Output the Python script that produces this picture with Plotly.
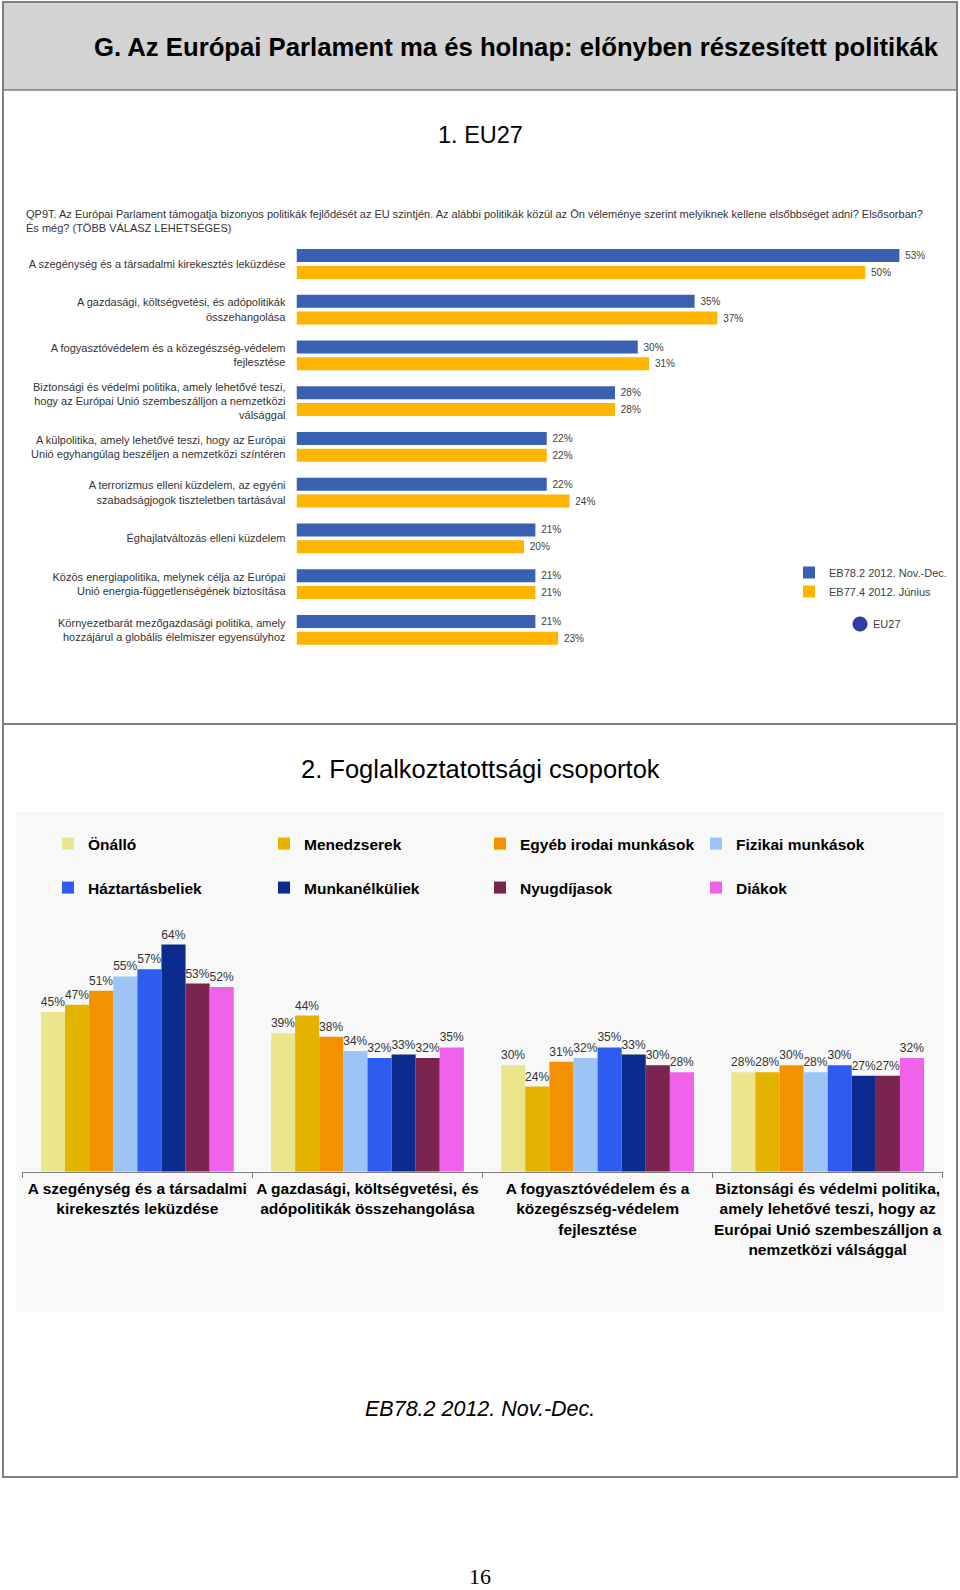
import plotly.graph_objects as go

W, H = 960, 1590

# ---------------- data ----------------
top_categories = [
    "A szegénység és a társadalmi kirekesztés leküzdése",
    "A gazdasági, költségvetési, és adópolitikák<br>összehangolása",
    "A fogyasztóvédelem és a közegészség-védelem<br>fejlesztése",
    "Biztonsági és védelmi politika, amely lehetővé teszi,<br>hogy az Európai Unió szembeszálljon a nemzetközi<br>válsággal",
    "A külpolitika, amely lehetővé teszi, hogy az Európai<br>Unió egyhangúlag beszéljen a nemzetközi színtéren",
    "A terrorizmus elleni küzdelem, az egyéni<br>szabadságjogok tiszteletben tartásával",
    "Éghajlatváltozás elleni küzdelem",
    "Közös energiapolitika, melynek célja az Európai<br>Unió energia-függetlenségének biztosítása",
    "Környezetbarát mezőgazdasági politika, amely<br>hozzájárul a globális élelmiszer egyensúlyhoz",
]
eb782_values = [53, 35, 30, 28, 22, 22, 21, 21, 21]
eb774_values = [50, 37, 31, 28, 22, 24, 20, 21, 23]
top_series = ["EB78.2 2012. Nov.-Dec.", "EB77.4 2012. Június"]

group_categories = [
    "A szegénység és a társadalmi<br>kirekesztés leküzdése",
    "A gazdasági, költségvetési, és<br>adópolitikák összehangolása",
    "A fogyasztóvédelem és a<br>közegészség-védelem<br>fejlesztése",
    "Biztonsági és védelmi politika,<br>amely lehetővé teszi, hogy az<br>Európai Unió szembeszálljon a<br>nemzetközi válsággal",
]
occupation_groups = ["Önálló", "Menedzserek", "Egyéb irodai munkások", "Fizikai munkások",
                     "Háztartásbeliek", "Munkanélküliek", "Nyugdíjasok", "Diákok"]
onallo = [45, 39, 30, 28]
menedzserek = [47, 44, 24, 28]
egyeb_irodai = [51, 38, 31, 30]
fizikai = [55, 34, 32, 28]
haztartasbeliek = [57, 32, 35, 30]
munkanelkuliek = [64, 33, 33, 27]
nyugdijasok = [53, 32, 30, 27]
diakok = [52, 35, 28, 32]
occupation_values = [onallo, menedzserek, egyeb_irodai, fizikai,
                     haztartasbeliek, munkanelkuliek, nyugdijasok, diakok]

# ---------------- styles ----------------
top_colors = ["#3a60b2", "#ffb400"]
occ_colors = ["#ebe68e", "#e3b300", "#f39200", "#9cc4f4",
              "#2e5cf0", "#0b2b8e", "#7a2450", "#f062ea"]
SANS = "Liberation Sans, Arial, sans-serif"


def px(x):
    return x / W


def py(y):
    return 1 - y / H


fig = go.Figure()

# top chart: horizontal bars
for name, vals, col, off in zip(top_series, [eb782_values, eb774_values], top_colors, [-0.326, 0.042]):
    fig.add_trace(go.Bar(
        x=vals, y=top_categories, orientation="h", name=name,
        marker=dict(color=col, line=dict(width=0)),
        width=0.284, offset=off,
        texttemplate="\u00a0%{x}%", textposition="outside",
        textfont=dict(family=SANS, size=10, color="#404040"),
        cliponaxis=False, constraintext="none",
        xaxis="x", yaxis="y", legend="legend",
    ))

# bottom chart: grouped vertical bars
for i, (name, vals, col) in enumerate(zip(occupation_groups, occupation_values, occ_colors)):
    fig.add_trace(go.Bar(
        x=group_categories, y=vals, name=name,
        marker=dict(color=col, line=dict(width=0)),
        texttemplate="%{y}%", textposition="outside",
        textfont=dict(family=SANS, size=12, color="#333333"),
        cliponaxis=False, constraintext="none",
        xaxis="x2", yaxis="y2", legend="legend2" if i < 4 else "legend3",
    ))

P = dict(xref="paper", yref="paper")
shapes = [
    dict(type="rect", **P, x0=px(16), x1=px(944), y0=py(1312), y1=py(812),
         fillcolor="#f8f8f8", line=dict(width=0), layer="below"),
    dict(type="rect", **P, x0=px(3), x1=px(957), y0=py(90), y1=py(2),
         fillcolor="#d3d3d3", line=dict(color="#7f7f7f", width=1.5), layer="below"),
    dict(type="rect", **P, x0=px(3), x1=px(957), y0=py(1477), y1=py(2),
         fillcolor="rgba(0,0,0,0)", line=dict(color="#808080", width=2)),
    dict(type="line", **P, x0=px(3), x1=px(957), y0=py(724), y1=py(724),
         line=dict(color="#808080", width=2)),
    dict(type="circle", **P, x0=px(853), x1=px(867), y0=py(631), y1=py(617),
         fillcolor="#2f3fa8", line=dict(color="#1a237e", width=1)),
]

annotations = [
    dict(text="<b>G. Az Európai Parlament ma és holnap: előnyben részesített politikák</b>",
         x=px(941), y=py(47), xanchor="right", yanchor="middle",
         font=dict(family=SANS, size=25.7, color="#000000")),
    dict(text="1. EU27", x=px(480), y=py(135), xanchor="center", yanchor="middle",
         font=dict(family=SANS, size=23.5, color="#000000")),
    dict(text="QP9T. Az Európai Parlament támogatja bizonyos politikák fejlődését az EU szintjén. Az alábbi politikák közül az Ön véleménye szerint melyiknek kellene elsőbbséget adni? Elsősorban?<br>És még? (TÖBB VÁLASZ LEHETSÉGES)",
         x=px(24), y=py(206), xanchor="left", yanchor="top", align="left",
         font=dict(family=SANS, size=11, color="#333333")),
    dict(text="EU27", x=px(871), y=py(624), xanchor="left", yanchor="middle",
         font=dict(family=SANS, size=11, color="#404040")),
    dict(text="2. Foglalkoztatottsági csoportok", x=px(480), y=py(769), xanchor="center", yanchor="middle",
         font=dict(family=SANS, size=25.5, color="#000000")),
    dict(text="<i>EB78.2 2012. Nov.-Dec.</i>", x=px(480), y=py(1409), xanchor="center", yanchor="middle",
         font=dict(family=SANS, size=21.5, color="#000000")),
    dict(text="16", x=px(480), y=py(1576), xanchor="center", yanchor="middle",
         font=dict(family="Liberation Serif, Times New Roman, serif", size=22, color="#000000")),
]
for a in annotations:
    a.update(xref="paper", yref="paper", showarrow=False)

fig.update_layout(
    width=W, height=H, autosize=False,
    margin=dict(l=0, r=0, t=0, b=0, autoexpand=False),
    paper_bgcolor="white", plot_bgcolor="rgba(0,0,0,0)",
    barmode="group", bargap=0.162, bargroupgap=0,
    showlegend=True,
    shapes=shapes, annotations=annotations,
    xaxis=dict(domain=[px(296.5), px(933.5)], range=[0, 56], visible=False, fixedrange=True,
               automargin=False),
    yaxis=dict(domain=[py(652.7), py(241.1)], type="category", categoryorder="array",
               categoryarray=top_categories, range=[8.5, -0.5], showline=False, showgrid=False,
               zeroline=False, ticks="", ticklabelstandoff=10, automargin=False,
               tickfont=dict(family=SANS, size=11, color="#333333")),
    xaxis2=dict(domain=[px(22.3), px(942.7)], anchor="y2", type="category", showline=True,
                linecolor="#808080", linewidth=1, ticks="outside", tickson="boundaries",
                ticklen=5, tickcolor="#808080", showgrid=False, tickangle=0, automargin=False,
                ticklabelstandoff=3,
                tickfont=dict(family=SANS, size=15.5, color="#000000", weight="bold")),
    yaxis2=dict(domain=[py(1171.7), py(923.2)], anchor="x2", range=[0, 70], visible=False,
                automargin=False),
    legend=dict(xref="container", yref="container", x=px(789), y=py(558),
                xanchor="left", yanchor="top", orientation="v",
                bgcolor="rgba(0,0,0,0)", font=dict(family=SANS, size=11, color="#404040"),
                itemwidth=30, tracegroupgap=0),
    legend2=dict(xref="container", yref="container", x=px(48), y=py(844),
                 xanchor="left", yanchor="middle", orientation="h",
                 entrywidth=171, entrywidthmode="pixels", bgcolor="rgba(0,0,0,0)",
                 font=dict(family=SANS, size=15.5, color="#000000", weight="bold"), itemwidth=30),
    legend3=dict(xref="container", yref="container", x=px(48), y=py(888),
                 xanchor="left", yanchor="middle", orientation="h",
                 entrywidth=171, entrywidthmode="pixels", bgcolor="rgba(0,0,0,0)",
                 font=dict(family=SANS, size=15.5, color="#000000", weight="bold"), itemwidth=30),
)

fig.write_html("out.html", config={"displayModeBar": False},
               post_script="document.body.style.margin='0px';document.body.style.overflow='hidden';")
